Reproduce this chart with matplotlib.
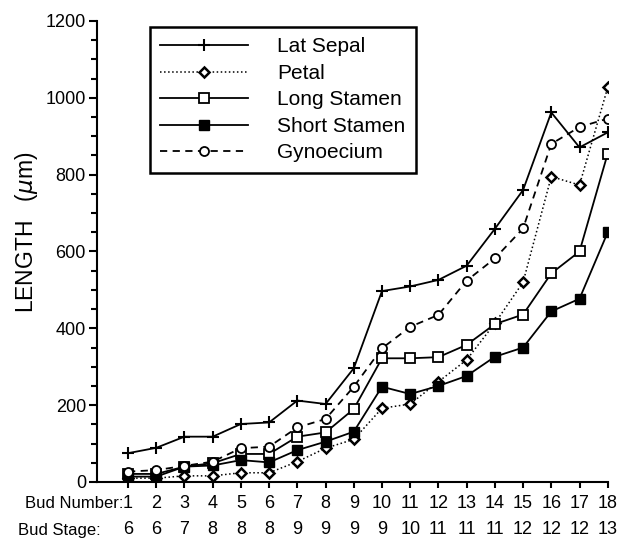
import matplotlib
matplotlib.use("Agg")
import matplotlib.pyplot as plt
import matplotlib.transforms as mtransforms
import numpy as np

plt.rcParams['font.family'] = ['Liberation Sans', 'DejaVu Sans']

bud_number = np.arange(1, 19)
bud_stage = [6, 6, 7, 8, 8, 8, 9, 9, 9, 9, 10, 11, 11, 11, 12, 12, 12, 13]

lat_sepal = [75, 89, 118, 118, 151, 155, 212, 203, 296, 497, 509, 526, 563, 659, 760, 962, 871, 910]
petal = [10, 10, 16, 16, 24, 24, 53, 88, 111, 192, 203, 261, 318, 413, 520, 795, 773, 1027]
long_stamen = [21, 21, 40, 49, 73, 73, 118, 129, 190, 322, 322, 325, 357, 411, 436, 543, 600, 855]
short_stamen = [14, 14, 40, 43, 57, 51, 83, 105, 131, 248, 229, 250, 276, 326, 350, 444, 477, 650]
gynoecium = [27, 31, 42, 53, 88, 92, 142, 164, 248, 348, 404, 435, 524, 582, 660, 880, 924, 946]

fig = plt.figure(figsize=(6.18, 5.42), dpi=100)
ax = fig.add_axes([97 / 618, 1 - 482 / 542, 511 / 618, 461 / 542])

lw = 1.3
ax.plot(bud_number, lat_sepal, color='black', lw=lw, marker='+', ms=9, mew=1.5,
        label='Lat Sepal')
ax.plot(bud_number, petal, color='black', lw=1.1, ls=':', marker='D', ms=5.5,
        mfc='white', mec='black', mew=1.8, label='Petal')
ax.plot(bud_number, long_stamen, color='black', lw=lw, marker='s', ms=7,
        mfc='white', mec='black', mew=1.3, label='Long Stamen')
ax.plot(bud_number, short_stamen, color='black', lw=lw, marker='s', ms=7.5,
        mfc='black', mec='black', label='Short Stamen')
ax.plot(bud_number, gynoecium, color='black', lw=lw, ls=(0, (4, 3)), marker='o',
        ms=6.5, mfc='white', mec='black', mew=1.3, label='Gynoecium')

ax.set_xlim(-0.1, 18.01)
ax.set_ylim(0, 1200)
ax.set_yticks(np.arange(0, 1201, 200))
ax.set_yticks(np.arange(0, 1201, 50), minor=True)
ax.set_xticks(bud_number)
ax.set_xticklabels([str(n) for n in bud_number])

for side in ['top', 'right']:
    ax.spines[side].set_visible(False)
for side in ['left', 'bottom']:
    ax.spines[side].set_linewidth(1.5)

ax.tick_params(axis='both', which='major', direction='out', length=6, width=1.5,
               labelsize=13, pad=2)
ax.tick_params(axis='y', which='minor', direction='out', length=4, width=1.5)
ax.tick_params(axis='x', which='major', length=4, pad=5)

# bud stage row under the bud numbers
trans = mtransforms.blended_transform_factory(ax.transData, fig.transFigure)
for n, s in zip(bud_number, bud_stage):
    ax.text(n, 1 - 530 / 542, str(s), transform=trans, ha='center', va='center',
            fontsize=13)

fig.text(123 / 618, 1 - 503 / 542, 'Bud Number:', ha='right', va='center',
         fontsize=12)
fig.text(18 / 618, 1 - 530 / 542, 'Bud Stage:', ha='left', va='center',
         fontsize=12)

fig.text(27 / 618, 1 - 232 / 542, r'LENGTH   ($\mu$m)', rotation=90,
         ha='center', va='center', fontsize=16.5)

leg = ax.legend(loc='upper left', bbox_to_anchor=(150 / 618, 1 - 27 / 542),
                bbox_transform=fig.transFigure, borderaxespad=0,
                fontsize=15, handlelength=4.2, handletextpad=1.4,
                labelspacing=0.36, borderpad=0.5, fancybox=False,
                framealpha=1, edgecolor='black')
leg.get_frame().set_linewidth(1.8)

fig.savefig('out.png', dpi=100)
